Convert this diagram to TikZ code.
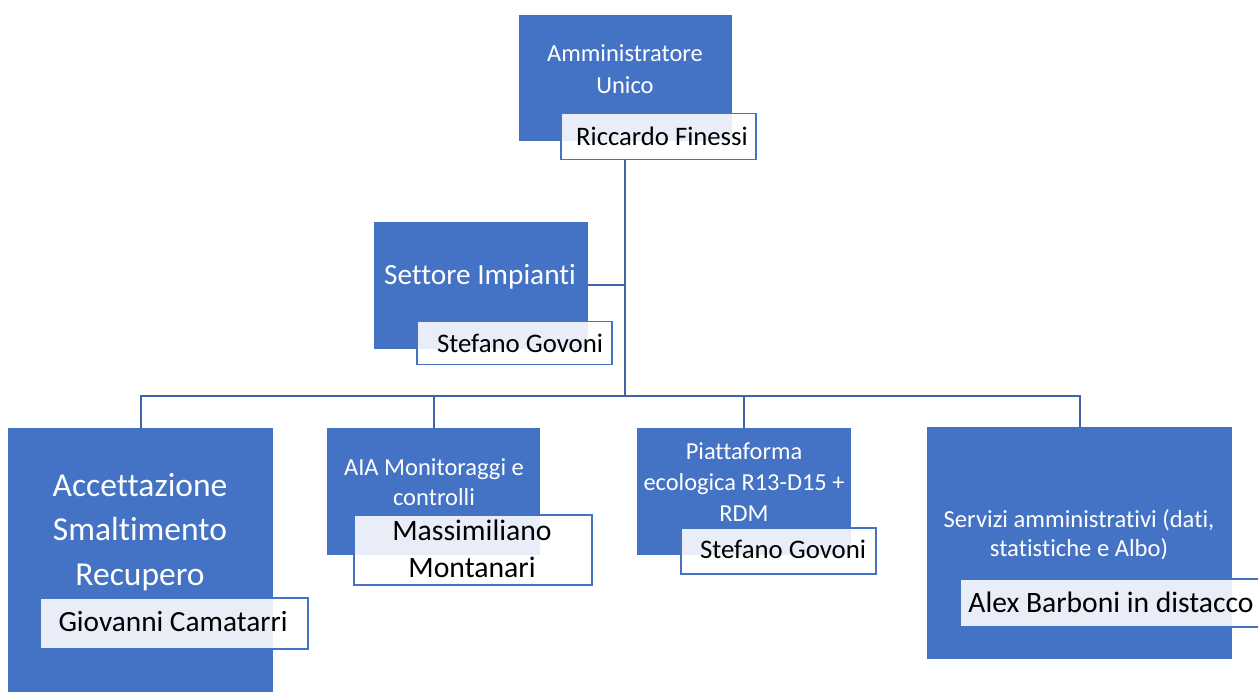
\documentclass[tikz,border=0pt]{standalone}
\usepackage{fontspec}
\setmainfont[Ligatures={NoCommon}]{Carlito}
\usetikzlibrary{backgrounds}
\definecolor{boxblue}{RGB}{68,114,196}
\definecolor{linkblue}{RGB}{64,100,170}
\newcommand{\setfs}[2]{\fontsize{#1}{#2}\selectfont}
\tikzset{
  unitbox/.style={fill=boxblue, draw=none, inner sep=0pt, anchor=north west},
  namebox/.style={draw=boxblue, line width=1.5pt, fill=white, fill opacity=0.88, draw opacity=1, inner sep=0pt, anchor=north west},
  link/.style={draw=linkblue, line width=2.2pt},
  ttl/.style={text=white, align=center, inner sep=0pt},
  nm/.style={text=black, align=center, inner sep=0pt},
}
\begin{document}
\begin{tikzpicture}[x=1pt,y=-1pt]
\useasboundingbox (0,0) rectangle (1258,692);
\clip (0,0) rectangle (1258,692);

% top
\node[unitbox, minimum width=213, minimum height=126] (topbox) at (519,15) {};
\node[ttl, font=\setfs{24.5}{32}] (toptxt) at (625,69) {Amministratore\\Unico};
\node[namebox, minimum width=195, minimum height=46] (topname) at (560,113) {};
\node[nm, font=\setfs{26.7}{32}] (topnametxt) at (662,136) {Riccardo Finessi};

% settore
\node[unitbox, minimum width=214, minimum height=127] (setbox) at (374,222) {};
\node[ttl, font=\setfs{29.3}{34}] (settxt) at (480,277) {Settore Impianti};
\node[namebox, minimum width=195, minimum height=43] (setname) at (416,321) {};
\node[nm, font=\setfs{26.8}{32}] (setnametxt) at (520,343) {Stefano Govoni};

% accettazione
\node[unitbox, minimum width=265, minimum height=300] (accbox) at (8,428) {};
\node[ttl, font=\setfs{33.5}{44.5}] (acctxt) at (140,532) {Accettazione\\Smaltimento\\Recupero};
\node[namebox, minimum width=268, minimum height=51] (accname) at (39,597) {};
\node[nm, font=\setfs{29.3}{34}] (accnametxt) at (173,622) {Giovanni Camatarri};

% AIA
\node[unitbox, minimum width=213, minimum height=127] (aiabox) at (327,428) {};
\node[ttl, font=\setfs{24.5}{30}] (aiatxt) at (434,482) {AIA Monitoraggi e\\controlli};
\node[namebox, minimum width=238, minimum height=70] (aianame) at (353,514) {};
\node[nm, font=\setfs{29.7}{37}] (aianametxt) at (472,549) {Massimiliano\\Montanari};

% Piattaforma
\node[unitbox, minimum width=214, minimum height=127] (piabox) at (637,428) {};
\node[ttl, font=\setfs{24.4}{31}] (piatxt) at (744,482) {Piattaforma\\ecologica R13-D15 +\\RDM};
\node[namebox, minimum width=195, minimum height=46] (pianame) at (680,527) {};
\node[nm, font=\setfs{26.8}{32}] (pianametxt) at (783,549) {Stefano Govoni};

% Servizi
\node[unitbox, minimum width=305, minimum height=232] (srvbox) at (927,427) {};
\node[ttl, font=\setfs{24.6}{29}] (srvtxt) at (1079,535) {Servizi amministrativi (dati,\\statistiche e Albo)};
\node[namebox, minimum width=310, minimum height=48] (srvname) at (959,578) {};
\node[nm, font=\setfs{29.6}{34}] (srvnametxt) at (1111,602) {Alex Barboni in distacco};

% connectors
\coordinate (bus) at (625,396);
\coordinate (sj) at (625,285);
\begin{pgfonlayer}{background}
\draw[link] (topname.south -| bus) -- (bus);
\draw[link] (setbox.east |- sj) -- (sj);
\draw[link] (accbox.north) |- (bus) -| (srvbox.north);
\draw[link] (aiabox.north) -- (aiabox.north |- bus);
\draw[link] (piabox.north) -- (piabox.north |- bus);
\end{pgfonlayer}
\end{tikzpicture}
\end{document}
